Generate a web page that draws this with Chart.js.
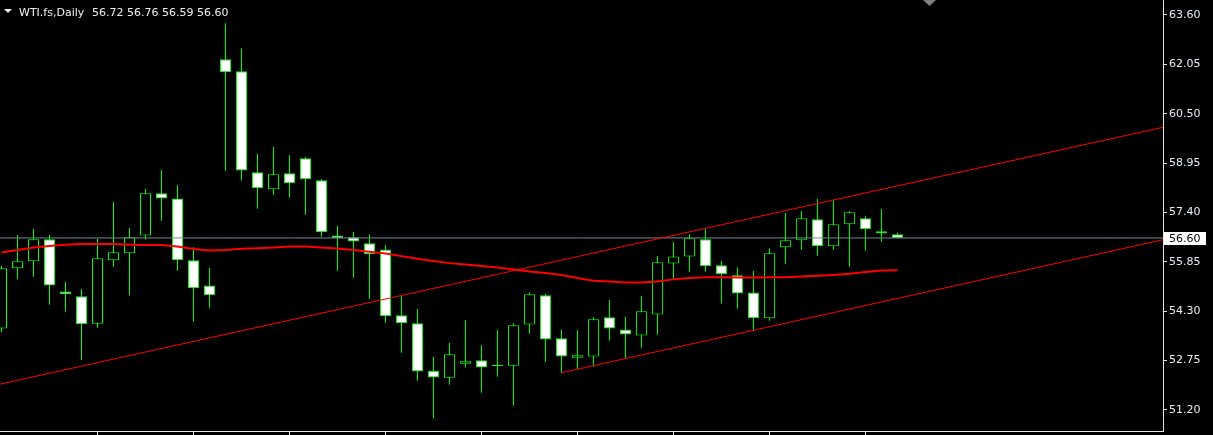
<!DOCTYPE html>
<html>
<head>
<meta charset="utf-8">
<script src="https://cdn.jsdelivr.net/npm/chart.js@4.4.0/dist/chart.umd.min.js"></script>
<style>
  html, body { margin: 0; padding: 0; background: #000; overflow: hidden; }
  #wrap { width: 1213px; height: 435px; }
</style>
</head>
<body>
<div id="wrap"><canvas id="chart" width="1213" height="435"></canvas></div>
<script>
// WTI.fs daily candles, oldest -> newest (bar index 0..56)
const opens = [53.76, 55.65, 55.87, 56.56, 54.92, 54.77, 53.91, 55.90, 56.12, 56.68,
    58.00, 57.84, 55.90, 55.11, 62.21, 61.83, 58.66, 58.13, 58.63, 59.10,
    58.41, 56.68, 56.62, 56.43, 56.24, 54.17, 53.92, 52.42, 52.21, 52.65,
    52.76, 52.61, 52.59, 53.88, 54.80, 53.45, 52.84, 52.88, 54.11, 53.73,
    53.54, 54.20, 55.80, 56.02, 56.56, 55.74, 55.43, 54.89, 54.08, 56.31,
    56.53, 57.19, 56.34, 57.03, 57.22, 56.81, 56.72];
const highs = [55.72, 56.69, 56.88, 56.69, 55.22, 55.00, 56.57, 57.73, 56.91, 58.14,
    58.73, 58.26, 56.31, 55.66, 63.34, 62.55, 59.24, 59.46, 59.20, 59.14,
    58.45, 56.98, 56.79, 56.72, 56.38, 54.80, 54.37, 52.86, 53.30, 54.02,
    53.24, 53.71, 53.92, 54.89, 54.84, 53.73, 53.71, 54.11, 54.65, 54.12,
    54.78, 56.03, 56.47, 56.72, 56.88, 55.88, 55.68, 55.56, 56.28, 57.38,
    57.45, 57.82, 57.80, 57.45, 57.29, 57.51, 56.76];
const lows = [53.65, 55.30, 55.38, 54.50, 54.28, 52.77, 53.78, 55.70, 54.79, 56.55,
    57.14, 55.57, 53.97, 54.41, 58.71, 58.40, 57.52, 57.96, 57.86, 57.33,
    56.64, 55.57, 55.35, 54.69, 53.94, 53.00, 52.12, 50.93, 51.99, 52.53,
    51.74, 52.24, 51.33, 53.59, 52.71, 52.35, 52.48, 52.56, 53.37, 52.82,
    53.15, 53.56, 55.30, 55.54, 55.54, 54.54, 54.38, 53.67, 54.00, 55.79,
    56.23, 56.04, 56.23, 55.70, 56.20, 56.48, 56.59];
const closes = [55.65, 55.87, 56.56, 55.11, 54.83, 53.89, 55.96, 56.15, 56.62, 58.00,
    57.84, 55.90, 55.02, 54.80, 61.80, 58.72, 58.16, 58.60, 58.32, 58.44,
    56.78, 56.59, 56.49, 56.09, 54.14, 53.92, 52.41, 52.22, 52.95, 52.73,
    52.53, 52.58, 53.86, 54.83, 53.41, 52.88, 52.92, 54.05, 53.76, 53.57,
    54.30, 55.84, 56.02, 56.59, 55.71, 55.46, 54.86, 54.08, 56.12, 56.53,
    57.22, 56.34, 57.03, 57.41, 56.87, 56.74, 56.60];

// moving average (red)
const maValues = [56.14, 56.22, 56.30, 56.35, 56.39, 56.41, 56.41, 56.41, 56.39, 56.38,
    56.38, 56.33, 56.25, 56.21, 56.22, 56.26, 56.28, 56.30, 56.33, 56.33,
    56.30, 56.27, 56.22, 56.17, 56.11, 56.03, 55.95, 55.88, 55.81, 55.77,
    55.72, 55.67, 55.61, 55.55, 55.50, 55.44, 55.34, 55.26, 55.23, 55.20,
    55.20, 55.23, 55.30, 55.34, 55.37, 55.37, 55.36, 55.36, 55.37, 55.37,
    55.39, 55.41, 55.44, 55.48, 55.53, 55.58, 55.59];

// channel lines: [bar index, price]
const upperLine = [[-1, 51.91], [74, 60.23]];
const lowerLine = [[35, 52.37], [74, 56.70]];

const yTicks = [51.20, 52.75, 54.30, 55.85, 57.40, 58.95, 60.50, 62.05, 63.60];
const xTicks = [6, 12, 18, 24, 30, 36, 42, 48, 54];

const xMin = -0.094, xMax = 72.6;
const yMin = 50.54, yMax = 64.07;

const lime = '#00ff00';
const frame = '#e6e6e6';
const last = closes[closes.length - 1];
const idx = closes.map((_, i) => i);

// header, last price tag and chart-shift marker
const overlay = {
    id: 'overlay',
    afterDraw(chart) {
        const ctx = chart.ctx;
        const ys = chart.scales.y;
        const xs = chart.scales.x;
        const n = closes.length - 1;
        ctx.save();
        ctx.fillStyle = '#f0f0f0';
        ctx.beginPath();
        ctx.moveTo(4, 9); ctx.lineTo(12, 9); ctx.lineTo(8, 13);
        ctx.closePath(); ctx.fill();
        ctx.font = '11px "DejaVu Sans"';
        ctx.textBaseline = 'alphabetic';
        ctx.fillText('WTI.fs,Daily', 19, 16);
        ctx.fillText([opens[n], highs[n], lows[n], closes[n]].map(v => v.toFixed(2)).join(' '), 92, 16);

        const py = Math.round(ys.getPixelForValue(last));
        ctx.fillStyle = '#ffffff';
        ctx.fillRect(1164, py - 6, 42, 13);
        ctx.fillStyle = '#000000';
        ctx.textBaseline = 'middle';
        ctx.fillText(last.toFixed(2), 1169, py + 1);

        const sx = Math.round(xs.getPixelForValue(58));
        ctx.fillStyle = '#808080';
        ctx.beginPath();
        ctx.moveTo(sx - 6, 0); ctx.lineTo(sx + 7, 0); ctx.lineTo(sx + 0.5, 6);
        ctx.closePath(); ctx.fill();
        ctx.restore();
    }
};

new Chart(document.getElementById('chart'), {
    type: 'bar',
    data: {
        datasets: [
            {
                type: 'bar',
                label: 'wick',
                data: idx.map(i => ({ x: i, y: [lows[i], highs[i]] })),
                backgroundColor: lime,
                borderWidth: 0,
                barThickness: 1,
                inflateAmount: 0,
                grouped: false,
                order: 3
            },
            {
                type: 'bar',
                label: 'body',
                data: idx.map(i => ({ x: i, y: [opens[i], closes[i]] })),
                backgroundColor: idx.map(i => closes[i] < opens[i] ? '#ffffff' : '#000000'),
                borderColor: lime,
                borderWidth: 1,
                borderSkipped: false,
                barThickness: 11,
                inflateAmount: 0,
                grouped: false,
                order: 2
            },
            {
                type: 'line',
                label: 'last',
                data: [{ x: xMin, y: last }, { x: xMax, y: last }],
                borderColor: '#778899',
                borderWidth: 1,
                pointRadius: 0,
                order: 1
            },
            {
                type: 'line',
                label: 'MA',
                data: maValues.map((v, i) => ({ x: i, y: v })),
                borderColor: '#ff0000',
                borderWidth: 2,
                pointRadius: 0,
                tension: 0,
                order: 0
            },
            {
                type: 'line',
                label: 'upper',
                data: upperLine.map(p => ({ x: p[0], y: p[1] })),
                borderColor: '#ff0000',
                borderWidth: 1,
                pointRadius: 0,
                order: 0
            },
            {
                type: 'line',
                label: 'lower',
                data: lowerLine.map(p => ({ x: p[0], y: p[1] })),
                borderColor: '#ff0000',
                borderWidth: 1,
                pointRadius: 0,
                order: 0
            }
        ]
    },
    options: {
        responsive: false,
        animation: false,
        layout: { padding: 0 },
        plugins: { legend: { display: false }, tooltip: { enabled: false } },
        scales: {
            x: {
                type: 'linear',
                min: xMin,
                max: xMax,
                offset: false,
                afterBuildTicks: s => { s.ticks = xTicks.map(v => ({ value: v })); },
                ticks: { display: false },
                grid: { offset: false, drawOnChartArea: false, drawTicks: true, tickLength: 4, color: frame },
                border: { display: true, color: frame, width: 1 },
                afterFit: s => { s.height = 4; s.paddingLeft = 0; s.paddingRight = 0; }
            },
            y: {
                position: 'right',
                min: yMin,
                max: yMax,
                beginAtZero: false,
                afterBuildTicks: s => { s.ticks = yTicks.map(v => ({ value: v })); },
                ticks: {
                    color: '#e8eef4',
                    font: { family: 'DejaVu Sans', size: 11 },
                    padding: 2,
                    callback: v => v.toFixed(2)
                },
                grid: { drawOnChartArea: false, drawTicks: true, tickLength: 4, color: frame },
                border: { display: true, color: frame, width: 1 },
                afterFit: s => { s.width = 50; s.paddingTop = 0; s.paddingBottom = 0; }
            }
        }
    },
    plugins: [overlay]
});
</script>
</body>
</html>
